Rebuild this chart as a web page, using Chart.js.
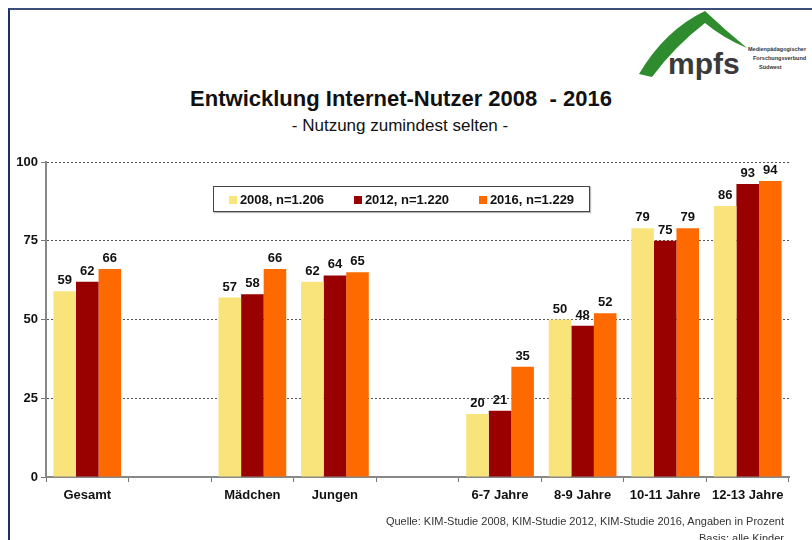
<!DOCTYPE html>
<html>
<head>
<meta charset="utf-8">
<script src="https://cdn.jsdelivr.net/npm/chart.js@4/dist/chart.umd.min.js"></script>
<style>
    body { margin: 0; width: 812px; height: 540px; background: #fff; position: relative; overflow: hidden; font-family: 'Liberation Sans', Arial, sans-serif; }
    .frame { position: absolute; left: 8px; top: 8px; width: 820px; height: 560px; border-top: 2px solid #3c4f7a; border-left: 2px solid #1f2f6a; }
    .title { position: absolute; left: 0; width: 802px; top: 86px; text-align: center; font-weight: bold; font-size: 22px; color: #111; }
    .subtitle { position: absolute; left: 0; width: 800px; top: 116px; text-align: center; font-size: 17px; color: #111; }
    .chart-box { position: absolute; left: 8px; top: 150px; width: 804px; height: 365px; }
    .legend { position: absolute; left: 213px; top: 186px; width: 375px; height: 24px; border: 1px solid #444; background: #fff; box-shadow: 1px 1px 1px #bbb;
        display: flex; align-items: center; justify-content: space-around; font-weight: bold; font-size: 13px; color: #111; }
    .legend span i { display: inline-block; width: 8px; height: 8px; margin-right: 3px; }
    .source { position: absolute; right: 28px; top: 513px; font-size: 11px; color: #333; text-align: right; line-height: 17px; }
    .logo { position: absolute; left: 635px; top: 8px; }
</style>
</head>
<body>
<div class="frame"></div>
<svg class="logo" width="180" height="72" viewBox="0 0 180 72">
    <path d="M4 66 Q 30 22 70 3 Q 90 22 112 40 Q 88 30 70 15 Q 40 38 17 69 Z" fill="#2e8b2e"/>
    <text x="33" y="66" font-family="'Liberation Sans', Arial" font-weight="bold" font-size="30" fill="#3a3a3a">mpfs</text>
    <text x="113" y="43" font-family="'Liberation Sans', Arial" font-size="5.5" font-weight="bold" fill="#333">Medienpädagogischer</text>
    <text x="118" y="52" font-family="'Liberation Sans', Arial" font-size="5.5" font-weight="bold" fill="#333">Forschungsverbund</text>
    <text x="124" y="61" font-family="'Liberation Sans', Arial" font-size="5.5" font-weight="bold" fill="#333">Südwest</text>
</svg>
<div class="title">Entwicklung Internet-Nutzer 2008&nbsp;&nbsp;- 2016</div>
<div class="subtitle">- Nutzung zumindest selten -</div>
<div class="chart-box"><canvas id="kimChart"></canvas></div>
<div class="legend" id="legend"></div>
<div class="source">Quelle: KIM-Studie 2008, KIM-Studie 2012, KIM-Studie 2016, Angaben in Prozent<br>Basis: alle Kinder</div>

<script>
// categories (empty slots are the gaps between the groups)
const categories = ['Gesamt', '', 'Mädchen', 'Jungen', '', '6-7 Jahre', '8-9 Jahre', '10-11 Jahre', '12-13 Jahre'];
const seriesNames = ['2008, n=1.206', '2012, n=1.220', '2016, n=1.229'];
const values2008 = [59, null, 57, 62, null, 20, 50, 79, 86];
const values2012 = [62, null, 58, 64, null, 21, 48, 75, 93];
const values2016 = [66, null, 66, 65, null, 35, 52, 79, 94];
const yTicks = [0, 25, 50, 75, 100];

const colors = ['#f9e47c', '#990000', '#ff6a00'];

// legend box inside the plot
const legendEl = document.getElementById('legend');
seriesNames.forEach((name, i) => {
    const s = document.createElement('span');
    s.innerHTML = `<i style="background:${colors[i]}"></i>${name}`;
    legendEl.appendChild(s);
});

const valueLabels = {
    id: 'valueLabels',
    afterDatasetsDraw(chart) {
        const ctx = chart.ctx;
        ctx.save();
        ctx.font = 'bold 13px "Liberation Sans", Arial';
        ctx.fillStyle = '#111';
        ctx.textAlign = 'center';
        ctx.textBaseline = 'bottom';
        chart.data.datasets.forEach((ds, i) => {
            chart.getDatasetMeta(i).data.forEach((bar, j) => {
                if (ds.data[j] == null) return;
                ctx.fillText(ds.data[j], bar.x, bar.y - 4);
            });
        });
        ctx.restore();
    }
};

new Chart(document.getElementById('kimChart'), {
    type: 'bar',
    data: {
        labels: categories,
        datasets: [
            { label: seriesNames[0], data: values2008, backgroundColor: colors[0] },
            { label: seriesNames[1], data: values2012, backgroundColor: colors[1] },
            { label: seriesNames[2], data: values2016, backgroundColor: colors[2] }
        ]
    },
    options: {
        responsive: true,
        maintainAspectRatio: false,
        animation: false,
        datasets: { bar: { categoryPercentage: 0.82, barPercentage: 1.0 } },
        layout: { padding: { top: 12, right: 23, left: 0, bottom: 0 } },
        plugins: {
            legend: { display: false },
            tooltip: { enabled: false }
        },
        scales: {
            y: {
                min: 0,
                max: 100,
                afterBuildTicks: axis => { axis.ticks = yTicks.map(v => ({ value: v })); },
                afterFit: axis => { axis.width = 38; },
                grid: {
                    color: c => c.tick && c.tick.value === 0 ? 'rgba(0,0,0,0)' : '#555',
                    tickColor: '#777',
                    tickLength: 5,
                    lineWidth: 1
                },
                border: { display: true, color: '#888', width: 2, dash: [2, 2] },
                ticks: {
                    color: '#111',
                    padding: 3,
                    font: { family: 'Liberation Sans', weight: 'bold', size: 13 }
                }
            },
            x: {
                afterFit: axis => { axis.height = 38; },
                grid: {
                    offset: true,
                    drawOnChartArea: false,
                    tickColor: '#777',
                    tickLength: 5
                },
                border: { display: true, color: '#888', width: 2 },
                ticks: {
                    color: '#111',
                    padding: 6,
                    autoSkip: false,
                    maxRotation: 0,
                    font: { family: 'Liberation Sans', weight: 'bold', size: 13 }
                }
            }
        }
    },
    plugins: [valueLabels]
});
</script>
</body>
</html>
